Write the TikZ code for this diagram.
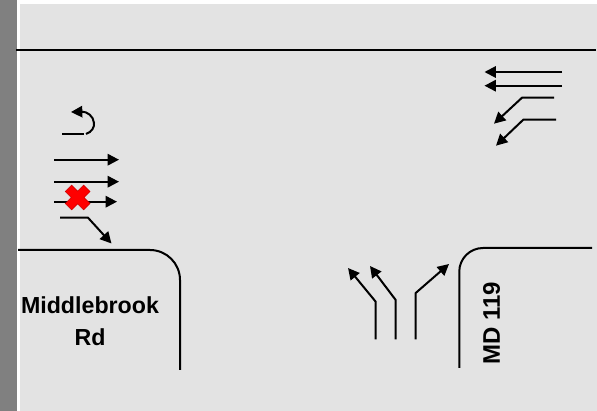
\documentclass[tikz,border=0pt]{standalone}
\usepackage{fontspec}
\setmainfont{Liberation Sans}
\usetikzlibrary{arrows.meta}
\tikzset{
 road/.style={line width=1.5pt,black},
 move/.style={line width=1.5pt,black,-{Triangle[length=8.5pt,width=8.5pt]}},
 lbl/.style={font=\bfseries\fontsize{17.4}{24}\selectfont,align=center,text=black,inner sep=0pt}
}
\begin{document}
\begin{tikzpicture}[x=0.75pt,y=-0.75pt,shift={(0pt,308.25pt)}]
\useasboundingbox (0,0) rectangle (597,411);
\fill[white] (0,0) rectangle (597,411);
\fill[black!50] (0,0) rectangle (16.7,411);
\fill[black!11] (20,4) rectangle (597,411);
% roads
\coordinate (t1) at (16,50); \coordinate (t2) at (596,50);
\draw[road] (t1) -- (t2);
\coordinate (a1) at (18,250); \coordinate (a2) at (150,250); \coordinate (a4) at (180,370);
\draw[road] (a1) -- (a2) arc[start angle=90,end angle=0,radius=22.5pt] -- (a4);
\coordinate (b1) at (592,248); \coordinate (b2) at (483,248); \coordinate (b4) at (459.3,368);
\draw[road] (b1) -- (b2) arc[start angle=90,end angle=180,radius=17.8pt] -- (b4);
% left approach
\coordinate (u1) at (62,134); \coordinate (u2) at (84,134); \coordinate (u3) at (86,134);
\coordinate (u4) at (94,123); \coordinate (u5) at (71,112);
\draw[road] (u1) -- (u2);
\draw[move] (u3) .. controls (92,132) and (94.5,127) .. (u4) .. controls (93.5,116) and (87,111.5) .. (u5);
\coordinate (e1a) at (54,159.7); \coordinate (e1b) at (119,159.7);
\coordinate (e2a) at (54,181.7); \coordinate (e2b) at (119,181.7);
\coordinate (e3a) at (54,201.7); \coordinate (e3b) at (117,201.7);
\coordinate (e4a) at (60,217.7); \coordinate (e4b) at (88,217.7); \coordinate (e4c) at (111.5,243.5);
\draw[move] (e1a) -- (e1b);
\draw[move] (e2a) -- (e2b);
\draw[move] (e3a) -- (e3b);
\draw[move] (e4a) -- (e4b) -- (e4c);
% right approach
\coordinate (w1a) at (562,72); \coordinate (w1b) at (484.5,72);
\coordinate (w2a) at (562,85.7); \coordinate (w2b) at (484.5,85.7);
\coordinate (w3a) at (554,97.7); \coordinate (w3b) at (522,97.7); \coordinate (w3c) at (494,123.7);
\coordinate (w4a) at (556,119.7); \coordinate (w4b) at (523.3,119.7); \coordinate (w4c) at (496,145.7);
\draw[move] (w1a) -- (w1b);
\draw[move] (w2a) -- (w2b);
\draw[move] (w3a) -- (w3b) -- (w3c);
\draw[move] (w4a) -- (w4b) -- (w4c);
% bottom approach
\coordinate (n1a) at (375.7,339.5); \coordinate (n1b) at (375.7,301.7); \coordinate (n1c) at (348,268);
\coordinate (n2a) at (395.7,339.5); \coordinate (n2b) at (395.7,300); \coordinate (n2c) at (370,266);
\coordinate (n3a) at (415.7,339.5); \coordinate (n3b) at (415.7,293); \coordinate (n3c) at (449,264);
\draw[move] (n1a) -- (n1b) -- (n1c);
\draw[move] (n2a) -- (n2b) -- (n2c);
\draw[move] (n3a) -- (n3b) -- (n3c);
% cross
\begin{scope}[shift={(77.7,197.5)},rotate=45]
\fill[red,draw=red!80!black,line width=0.4pt]
 (-13,-4.5) -- (-4.5,-4.5) -- (-4.5,-13) -- (4.5,-13) -- (4.5,-4.5) -- (13,-4.5) -- (13,4.5) -- (4.5,4.5) -- (4.5,13) -- (-4.5,13) -- (-4.5,4.5) -- (-13,4.5) -- cycle;
\end{scope}
% labels
\node[lbl] (mr) at (90,321.5) {Middlebrook\\Rd};
\node[lbl,rotate=90] (md) at (491.7,323.5) {\fontsize{18}{24}\selectfont MD 119};
\end{tikzpicture}
\end{document}
